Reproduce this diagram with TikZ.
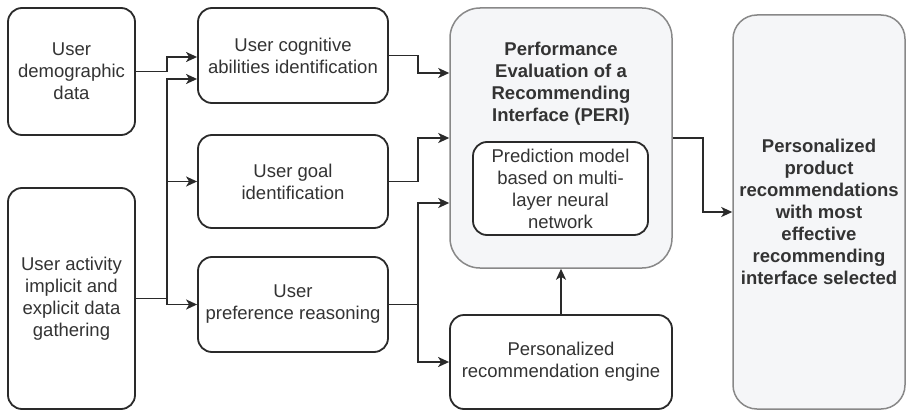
\documentclass[tikz,border=0pt]{standalone}
\usepackage{fontspec}
\setmainfont{Liberation Sans}
\usetikzlibrary{arrows.meta,calc}
\definecolor{edge}{HTML}{2A2A2A}
\definecolor{ink}{HTML}{333333}
\definecolor{soft}{HTML}{888888}
\definecolor{pale}{HTML}{F5F6F8}
\tikzset{
  box/.style={draw=edge, line width=1.8pt, rounded corners=14pt, fill=white, align=center,
    inner sep=0pt, text=ink, font=\fontsize{18.5}{22}\selectfont},
  bigbox/.style={draw=soft, line width=1.5pt, fill=pale, align=center, inner sep=0pt,
    text=ink, font=\fontsize{18.5}{22}\selectfont\bfseries},
  arr/.style={draw=edge, line width=1.8pt, -{Stealth[length=11pt,width=10pt,inset=3pt]}},
  ln/.style={draw=edge, line width=1.8pt}
}
\begin{document}
\begin{tikzpicture}[x=1pt,y=-1pt]
\useasboundingbox (0,0) rectangle (907,412);
% left column
\node[box, minimum width=127pt, minimum height=127pt] (demo) at (71.5,71.5) {User\\demographic\\data};
\node[box, minimum width=127pt, minimum height=221pt] (act) at (71.5,298.5) {User activity\\implicit and\\explicit data\\gathering};
% middle column
\node[box, minimum width=190pt, minimum height=95pt] (cog) at (293,55.5) {User cognitive\\abilities identification};
\node[box, minimum width=190pt, minimum height=93pt] (goal) at (293,181.5) {User goal\\identification};
\node[box, minimum width=190pt, minimum height=95pt] (pref) at (293,304.5) {User\\preference reasoning};
% PERI
\node[bigbox, rounded corners=30pt, minimum width=222pt, minimum height=260pt] (peri) at (561,138) {};
\node[font=\fontsize{18.5}{22}\selectfont\bfseries, text=ink, align=center, inner sep=0pt] (peritxt) at (561,84) {Performance\\Evaluation of a\\Recommending\\Interface (PERI)};
\node[box, minimum width=175pt, minimum height=93pt] (inner) at (560.5,188.5) {Prediction model\\based on multi-\\layer neural\\network};
\node[box, minimum width=222pt, minimum height=94pt] (eng) at (561,362) {Personalized\\recommendation engine};
% result
\node[bigbox, rounded corners=24pt, minimum width=172pt, minimum height=394pt] (res) at (819,212) {Personalized\\product\\recommendations\\with most\\effective\\recommending\\interface selected};
% bus coordinates
\coordinate (bus) at (167,0);
\coordinate (rbus) at (418,0);
\coordinate (obus) at (703,0);
% connectors into middle column
\draw[ln] (demo.east) -- (bus |- demo.east);
\draw[arr] (bus |- demo.east) |- ([yshift=-1.5pt]cog.west);
\draw[ln] (act.east) -- (bus |- act.east);
\draw[arr] (bus |- act.east) |- ([yshift=-23.5pt]cog.west);
\draw[arr] (bus |- goal.west) -- (goal.west);
\draw[arr] (bus |- act.east) |- (pref.west);
% connectors into PERI
\draw[arr] (cog.east) -- (rbus |- cog.east) |- ([yshift=65pt]peri.west);
\draw[arr] (goal.east) -- (rbus |- goal.east) |- (peri.west);
\draw[arr] (pref.east) -- (rbus |- pref.east) |- ([yshift=-65pt]peri.west);
\draw[arr] (rbus |- pref.east) |- (eng.west);
\draw[arr] (eng.north) -- (peri.south);
% to result
\draw[arr] (peri.east) -- (obus |- peri.east) |- (res.west);
\end{tikzpicture}
\end{document}
